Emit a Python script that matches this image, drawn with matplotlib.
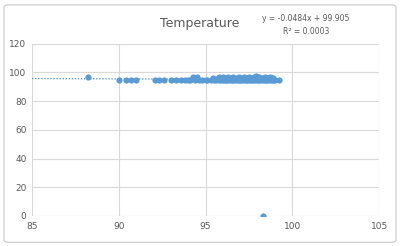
import numpy as np
import matplotlib.pyplot as plt
from matplotlib.patches import FancyBboxPatch

# Temperature readings (x) and paired values (y)
temp = [88.2, 90.0, 90.4, 90.7, 91.0, 92.1, 92.3, 92.6, 93.0, 93.3, 93.6, 93.8,
        94.0, 94.1, 94.3, 94.4, 94.5, 94.6, 94.8, 95.0, 95.1, 95.3, 95.5, 95.6,
        95.8, 95.9, 96.0, 96.1, 96.2, 96.3, 96.4, 96.5, 96.6, 96.7, 96.8, 96.9,
        97.0, 97.1, 97.2, 97.3, 97.4, 97.5, 97.6, 97.7, 97.8, 97.9, 98.0, 98.1,
        98.2, 98.3, 98.4, 98.5, 98.6, 98.7, 98.8, 98.9, 99.0, 99.2,
        95.8, 96.0, 96.3, 96.6, 96.9, 97.2, 97.5, 97.8, 98.1, 98.4, 98.7,
        96.1, 96.5, 97.0, 97.4, 97.7, 98.0, 98.3, 98.6, 98.8, 97.9, 98.2, 98.3,
        95.4, 95.7, 96.2, 96.8, 97.3, 97.6, 98.1, 98.5, 98.9, 96.4, 96.7, 97.1]
value = [97.2, 95.0, 94.9, 95.0, 95.0, 95.0, 95.0, 95.0, 95.0, 95.0, 95.0, 95.0,
         95.0, 95.0, 96.9, 95.0, 96.8, 95.0, 95.0, 95.0, 95.0, 95.0, 95.0, 95.0,
         95.0, 95.0, 95.0, 95.0, 95.0, 95.0, 95.0, 95.0, 95.0, 95.0, 95.0, 95.0,
         95.0, 95.0, 95.0, 95.0, 95.0, 95.0, 95.0, 95.0, 95.0, 95.0, 95.0, 95.0,
         95.0, 95.0, 95.0, 95.0, 95.0, 95.0, 95.0, 95.0, 95.0, 95.0,
         96.8, 97.0, 97.0, 97.0, 96.9, 97.0, 97.0, 97.0, 97.0, 97.0, 97.0,
         96.0, 96.0, 96.0, 96.0, 96.0, 96.0, 96.0, 96.0, 96.0, 97.6, 96.2, 0.0,
         96.5, 96.5, 96.5, 96.5, 96.5, 96.5, 96.5, 96.5, 96.5, 95.5, 95.5, 95.5]

slope = -0.0484
intercept = 99.905

blue = '#5b9bd5'
grey = '#595959'

fig = plt.figure(figsize=(4, 2.46), dpi=100)
fig.patches.append(FancyBboxPatch((0.01, 0.015), 0.98, 0.965, boxstyle='round,pad=0,rounding_size=0.01',
                                  transform=fig.transFigure, fill=False, edgecolor='#c8c8c8', linewidth=0.8))
ax = fig.add_axes([0.08, 0.122, 0.868, 0.7])

ax.scatter(temp, value, s=20, color=blue, zorder=3, linewidths=0)

# linear trendline
tx = np.array([85, 99.2])
ax.plot(tx, slope * tx + intercept, linestyle=(0, (1, 1.2)), color=blue, linewidth=1.0, zorder=2)

ax.set_xlim(85, 105)
ax.set_ylim(0, 120)
ax.set_xticks([85, 90, 95, 100, 105])
ax.set_yticks([0, 20, 40, 60, 80, 100, 120])
ax.grid(True, color='#d9d9d9', linewidth=0.8)
ax.set_axisbelow(True)
for s in ax.spines.values():
    s.set_visible(False)
ax.tick_params(length=0, labelsize=6.5, colors=grey, pad=4)

fig.text(0.5, 0.905, 'Temperature', ha='center', va='center', fontsize=9, color=grey)
fig.text(0.765, 0.925, 'y = -0.0484x + 99.905', ha='center', va='center', fontsize=5.5, color=grey)
fig.text(0.765, 0.872, 'R² = 0.0003', ha='center', va='center', fontsize=5.5, color=grey)

plt.savefig('out.png', dpi=100)
